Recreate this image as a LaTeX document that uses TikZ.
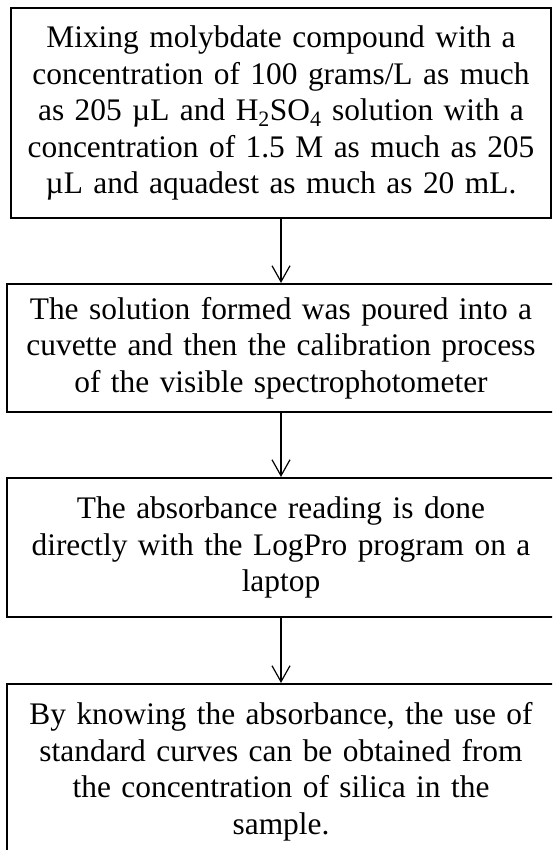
\documentclass[tikz,border=0pt]{standalone}
\usepackage{fontspec}
\setmainfont{Liberation Serif}
\usetikzlibrary{arrows.meta}
\begin{document}
\begin{tikzpicture}[x=1pt,y=-1pt,
  stepbox/.style={draw, line width=2.1pt, align=center, inner sep=0pt,
    text width=530pt, font=\fontsize{31.4}{36.5}\selectfont},
  flow/.style={line width=1.2pt,
    -{Straight Barb[length=16pt,width=18pt,line width=1.2pt]}}]
\clip (0,0) rectangle (552,850);
\useasboundingbox (0,0) rectangle (552,850);

% process steps
\node[stepbox, minimum width=540pt, minimum height=210pt] (s1) at (281,113)
  {Mixing molybdate compound with a\\
   concentration of 100 grams/L as much\\
   as 205 µL and H\textsubscript{2}SO\textsubscript{4} solution with a\\
   concentration of 1.5 M as much as 205\\
   µL and aquadest as much as 20 mL.};
\node[stepbox, minimum width=548pt, minimum height=128pt] (s2) at (281,348)
  {The solution formed was poured into a\\
   cuvette and then the calibration process\\
   of the visible spectrophotometer};
\node[stepbox, minimum width=548pt, minimum height=139pt] (s3) at (281,547.5)
  {The absorbance reading is done\\
   directly with the LogPro program on a\\
   laptop};
\node[stepbox, minimum width=548pt, minimum height=176pt] (s4) at (281,772)
  {By knowing the absorbance, the use of\\
   standard curves can be obtained from\\
   the concentration of silica in the\\
   sample.};

% connectors
\draw[flow] (s1.south) -- (s2.north);
\draw[flow] (s2.south) -- (s3.north);
\draw[flow] (s3.south) -- (s4.north);
\end{tikzpicture}
\end{document}
